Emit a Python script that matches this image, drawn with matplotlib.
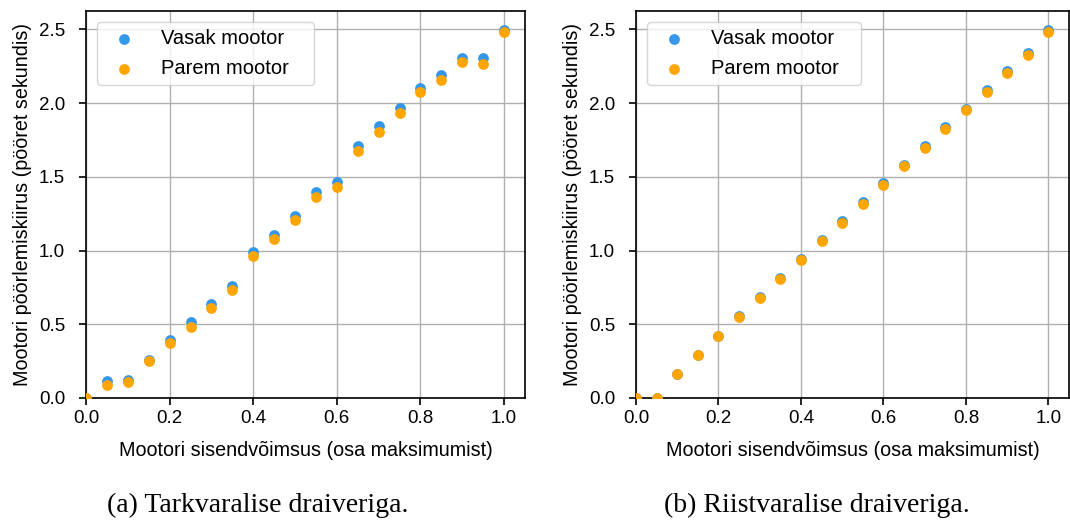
import matplotlib
matplotlib.use("Agg")
import matplotlib.pyplot as plt

x = [0.0, 0.05, 0.1, 0.15, 0.2, 0.25, 0.3, 0.35, 0.4, 0.45, 0.5,
     0.55, 0.6, 0.65, 0.7, 0.75, 0.8, 0.85, 0.9, 0.95, 1.0]

sw_left = [0.0, 0.115, 0.124, 0.257, 0.395, 0.513, 0.639, 0.761, 0.991, 1.109, 1.235,
           1.398, 1.465, 1.712, 1.843, 1.965, 2.102, 2.193, 2.306, 2.308, 2.497]
sw_right = [0.0, 0.09, 0.108, 0.248, 0.375, 0.483, 0.608, 0.734, 0.962, 1.077, 1.204,
            1.366, 1.432, 1.673, 1.807, 1.931, 2.073, 2.154, 2.28, 2.268, 2.48]

hw_left = [0.0, 0.0, 0.163, 0.291, 0.422, 0.556, 0.684, 0.815, 0.944, 1.073, 1.199,
           1.33, 1.459, 1.583, 1.707, 1.838, 1.963, 2.087, 2.215, 2.342, 2.497]
hw_right = [0.0, 0.0, 0.163, 0.291, 0.422, 0.549, 0.678, 0.808, 0.935, 1.064, 1.188,
            1.319, 1.448, 1.572, 1.696, 1.825, 1.951, 2.078, 2.204, 2.328, 2.484]

series_labels = ["Vasak mootor", "Parem mootor"]
xlabel = "Mootori sisendvõimsus (osa maksimumist)"
ylabel = "Mootori pöörlemiskiirus (pööret sekundis)"
captions = ["(a) Tarkvaralise draiveriga.", "(b) Riistvaralise draiveriga."]

plt.rcParams['font.family'] = ['Liberation Sans', 'DejaVu Sans']
plt.rcParams['font.size'] = 14

W, H = 1070, 521
fig = plt.figure(figsize=(W / 100, H / 100), dpi=100)

def rect(l, r, t, b):
    return [l / W, 1 - b / H, (r - l) / W, (b - t) / H]

blue = '#3597ea'
orange = '#ffa500'

axes_rects = [rect(86, 525, 11, 398), rect(636, 1069, 11, 398)]
datasets = [(sw_left, sw_right), (hw_left, hw_right)]
cap_x = [258, 817]

for r, (yl, yr), cx, cap in zip(axes_rects, datasets, cap_x, captions):
    ax = fig.add_axes(r)
    ax.set_axisbelow(True)
    ax.grid(True, color='#b0b0b0', linewidth=1.0)
    ax.scatter(x, yl, s=60, color=blue, label=series_labels[0], zorder=3, linewidths=0)
    ax.scatter(x, yr, s=60, color=orange, label=series_labels[1], zorder=4, linewidths=0)
    ax.set_xlim(0, 1.05)
    ax.set_ylim(0, 2.625)
    ax.set_xticks([0.0, 0.2, 0.4, 0.6, 0.8, 1.0])
    ax.set_yticks([0.0, 0.5, 1.0, 1.5, 2.0, 2.5])
    ax.set_xlabel(xlabel, fontsize=14.2, labelpad=10)
    ax.set_ylabel(ylabel, fontsize=14.2, labelpad=5)
    for s in ax.spines.values():
        s.set_color('black')
        s.set_linewidth(1.2)
    ax.tick_params(labelsize=13.5, length=5, width=1.2)
    ax.tick_params(axis='x', pad=3.5)
    ax.tick_params(axis='y', pad=10)
    ax.legend(loc='upper left', fontsize=14.5, borderpad=0.35, handletextpad=0.85,
              handlelength=2.0, labelspacing=0.55, framealpha=0.8,
              bbox_to_anchor=(0.025, 0.0, 0.494, 0.9716), mode='expand',
              borderaxespad=0.0)
    fig.text(cx / W, 1 - 512 / H, cap, ha='center', va='baseline',
             fontsize=20, family=['Liberation Serif', 'DejaVu Serif'])

fig.savefig('out.png', dpi=100)
